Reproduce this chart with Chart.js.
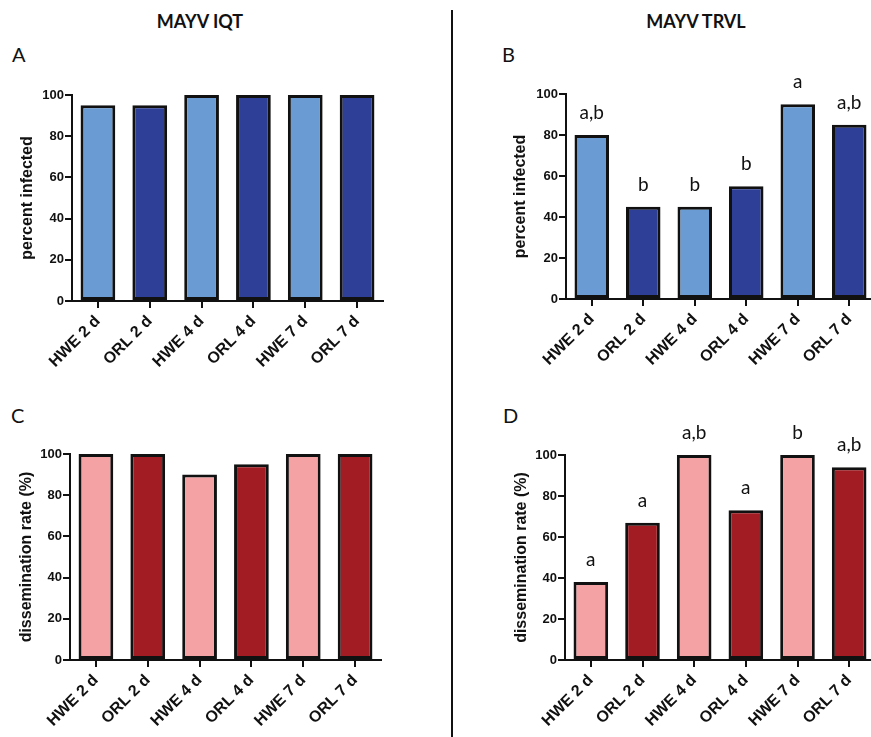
<!DOCTYPE html>
<html>
<head>
<meta charset="utf-8">
<script src="https://cdn.jsdelivr.net/npm/chart.js@4.4.0/dist/chart.umd.min.js"></script>
<style>
  html, body { margin: 0; padding: 0; background: #fff; width: 871px; height: 737px; overflow: hidden; }
  #page { position: relative; width: 871px; height: 737px; }
  .title { position: absolute; font-family: Lato, 'Open Sans', sans-serif; font-weight: bold; font-size: 18px; line-height: 1; color: #111; text-align: center; }
  .letter { position: absolute; font-family: Lato, 'Open Sans', sans-serif; font-size: 20px; line-height: 1; color: #111; }
  canvas { position: absolute; }
  #divider { position: absolute; left: 451px; top: 10px; width: 2px; height: 727px; background: #111; z-index: 5; }
</style>
</head>
<body>
<div id="page">
  <div class="title" style="left:0px; width:400px; top:12px;">MAYV IQT</div>
  <div class="title" style="left:546px; width:300px; top:12px;">MAYV TRVL</div>
  <div class="letter" style="left:12px; top:44px;">A</div>
  <div class="letter" style="left:502px; top:44px;">B</div>
  <div class="letter" style="left:11px; top:405px;">C</div>
  <div class="letter" style="left:503px; top:405px;">D</div>
  <div id="divider"></div>

  <canvas id="chartA" width="440" height="330" style="left:0px; top:60px;"></canvas>
  <canvas id="chartB" width="430" height="330" style="left:450px; top:60px;"></canvas>
  <canvas id="chartC" width="440" height="330" style="left:0px; top:420px;"></canvas>
  <canvas id="chartD" width="430" height="330" style="left:450px; top:420px;"></canvas>
</div>

<script>
// data
const categories = ['HWE 2 d', 'ORL 2 d', 'HWE 4 d', 'ORL 4 d', 'HWE 7 d', 'ORL 7 d'];
const iqtInfected = [95, 95, 100, 100, 100, 100];
const trvlInfected = [80, 45, 45, 55, 95, 85];
const iqtDissemination = [100, 100, 90, 95, 100, 100];
const trvlDissemination = [38, 67, 100, 73, 100, 94];
const trvlInfectedLetters = ['a,b', 'b', 'b', 'b', 'a', 'a,b'];
const trvlDisseminationLetters = ['a', 'a', 'a,b', 'a', 'b', 'a,b'];

const blues = ['#6a9bd3', '#2e3f98', '#6a9bd3', '#2e3f98', '#6a9bd3', '#2e3f98'];
const reds = ['#f4a2a3', '#a11c23', '#f4a2a3', '#a11c23', '#f4a2a3', '#a11c23'];

const ink = '#111';
const tickFont = "'Liberation Sans', Arial, sans-serif";

function makeChart(id, values, colors, yTitle, letters, area) {
    // area: where the plot area should land inside the canvas
    const canvas = document.getElementById(id);
    const w = canvas.width, h = canvas.height;

    const letterPlugin = {
        id: 'letters',
        afterDatasetsDraw(chart) {
            if (!letters) return;
            const ctx = chart.ctx;
            const bars = chart.getDatasetMeta(0).data;
            ctx.save();
            ctx.font = "19px Lato, 'Open Sans', sans-serif";
            ctx.fillStyle = ink;
            ctx.textAlign = 'center';
            ctx.textBaseline = 'alphabetic';
            bars.forEach((bar, i) => ctx.fillText(letters[i], bar.x, bar.y - 16));
            ctx.restore();
        }
    };

    return new Chart(canvas.getContext('2d'), {
        type: 'bar',
        data: {
            labels: categories,
            datasets: [{
                data: values,
                backgroundColor: colors,
                borderColor: ink,
                borderWidth: 3,
                borderSkipped: false,
                categoryPercentage: 0.67,
                barPercentage: 1.0
            }]
        },
        options: {
            responsive: false,
            animation: false,
            layout: {
                padding: { top: area.top, right: w - area.right, left: 0, bottom: 0 }
            },
            plugins: {
                legend: { display: false },
                tooltip: { enabled: false }
            },
            scales: {
                x: {
                    offset: true,
                    grid: { offset: false, drawOnChartArea: false, drawTicks: true, tickLength: 7, color: ink, lineWidth: 2 },
                    border: { display: true, color: ink, width: 2 },
                    ticks: {
                        color: ink,
                        font: { family: tickFont, weight: 'bold', size: 16 },
                        minRotation: 45,
                        maxRotation: 45,
                        padding: 4,
                        autoSkip: false
                    },
                    afterFit: (scale) => { scale.height = h - area.bottom; }
                },
                y: {
                    min: 0,
                    max: 100,
                    grid: { drawOnChartArea: false, drawTicks: true, tickLength: 7, color: ink, lineWidth: 2 },
                    border: { display: true, color: ink, width: 2 },
                    ticks: {
                        stepSize: 20,
                        color: ink,
                        font: { family: tickFont, weight: 'bold', size: 13 },
                        padding: 1
                    },
                    title: {
                        display: true,
                        text: yTitle,
                        color: ink,
                        font: { family: tickFont, weight: 'bold', size: 16 },
                        padding: { top: area.titleX - 10, bottom: 0 }
                    },
                    afterFit: (scale) => { scale.width = area.left; }
                }
            }
        },
        plugins: [letterPlugin]
    });
}

makeChart('chartA', iqtInfected, blues, 'percent infected', null,
    { left: 72, right: 383, top: 35, bottom: 241, titleX: 28 });
makeChart('chartB', trvlInfected, blues, 'percent infected', trvlInfectedLetters,
    { left: 116, right: 425, top: 34, bottom: 239, titleX: 71 });
makeChart('chartC', iqtDissemination, reds, 'dissemination rate (%)', null,
    { left: 70, right: 381, top: 34, bottom: 240, titleX: 27 });
makeChart('chartD', trvlDissemination, reds, 'dissemination rate (%)', trvlDisseminationLetters,
    { left: 115, right: 425, top: 35, bottom: 240, titleX: 72 });
</script>
</body>
</html>
